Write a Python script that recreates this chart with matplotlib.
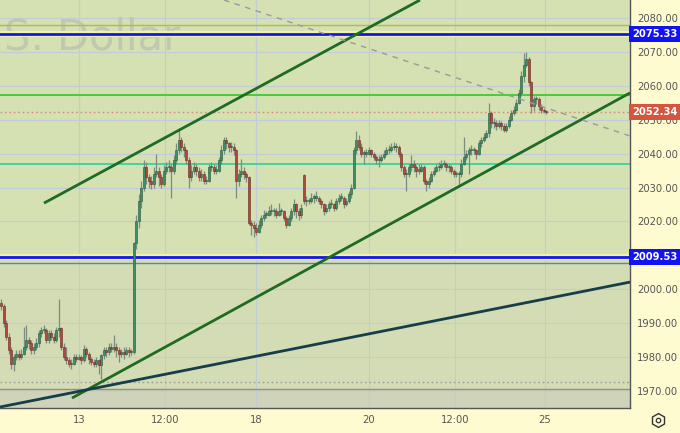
import matplotlib
matplotlib.use("Agg")
import matplotlib.pyplot as plt
import matplotlib.transforms as mtransforms
import numpy as np

# ---------------- data ----------------
first_open = 1996.0
closes = [
    1995, 1990, 1986, 1982, 1978, 1980, 1981, 1980, 1981, 1983,
    1985, 1984, 1982, 1983, 1984, 1987, 1988, 1988, 1985, 1987,
    1986, 1985, 1988, 1988.5, 1983, 1980, 1979, 1978, 1978, 1980,
    1979.5, 1980, 1979, 1982.5, 1981, 1979.5, 1978.5, 1978, 1979, 1977.5,
    1980.5, 1982, 1981.5, 1983, 1982.5, 1983, 1982, 1981, 1981.5, 1981,
    1982, 1981.5, 1981.5, 2013.5, 2020, 2026, 2030, 2036, 2033, 2032,
    2031, 2034, 2035, 2033, 2031, 2035, 2036, 2036, 2035, 2038,
    2041, 2044, 2042, 2041, 2038, 2033, 2035, 2036, 2035, 2033,
    2034, 2032, 2032, 2036, 2036, 2035, 2035, 2038, 2041, 2044,
    2043, 2042, 2042, 2041, 2032, 2034, 2035, 2034, 2033, 2019.5,
    2019, 2018, 2017, 2019, 2021, 2022, 2022, 2023, 2023, 2023,
    2022, 2023, 2023, 2021, 2019, 2021, 2023, 2025, 2023, 2022,
    2024, 2026, 2026, 2026, 2027, 2027, 2027, 2026, 2025, 2023,
    2024, 2025, 2025, 2024, 2026, 2027, 2027, 2025, 2026, 2028,
    2030, 2041, 2044, 2042, 2040, 2040, 2040, 2041, 2040, 2039,
    2038, 2038, 2039, 2040, 2041, 2041, 2042, 2042, 2042, 2040,
    2036, 2034, 2034, 2036, 2037, 2036, 2035, 2035, 2036, 2032,
    2031, 2032, 2034, 2035, 2036, 2036, 2037, 2037, 2036, 2036,
    2035, 2034, 2034, 2034, 2037, 2039, 2040, 2041, 2041, 2041,
    2040, 2043, 2044, 2045, 2046, 2052, 2049, 2049, 2048, 2049,
    2048, 2047, 2048, 2050, 2052, 2053, 2055, 2058, 2063, 2066,
    2068, 2061, 2054, 2056, 2056, 2054, 2053, 2052.6, 2052.34,
]
highs = [
    1997, 1995.5, 1991, 1987, 1983, 1981, 1982, 1982, 1982.5, 1989,
    1989.5, 1986, 1985, 1984, 1985.5, 1988, 1989, 1989.5, 1988.5, 1988,
    1988, 1987, 1989, 1997, 1989, 1984, 1983, 1980, 1979.5, 1981,
    1981, 1981, 1980.5, 1983.5, 1983, 1981.5, 1980, 1979.5, 1980, 1979.5,
    1981, 1983, 1983, 1984, 1984, 1986.5, 1984, 1983, 1982.5, 1983,
    1983, 1983, 1982.5, 2014, 2022, 2028, 2032, 2038, 2037.5, 2034,
    2033.5, 2036, 2040, 2036, 2034, 2036.5, 2037.5, 2038, 2037, 2039.5,
    2043, 2047.5, 2045, 2043, 2041.5, 2039, 2036.5, 2037.5, 2037, 2036,
    2035.5, 2035, 2033.5, 2037, 2037.5, 2037, 2036.5, 2039, 2042.5, 2045,
    2045, 2043.5, 2043.5, 2043, 2041.5, 2035.5, 2038.5, 2036, 2034.5, 2033.5,
    2020.5, 2020, 2019.5, 2020.5, 2022, 2023.5, 2023, 2024.5, 2025, 2024,
    2024, 2025.5, 2024, 2023.5, 2021.5, 2022, 2024, 2026.5, 2025.5, 2024,
    2025, 2034, 2027.5, 2027, 2028.5, 2028, 2029, 2027.5, 2026.5, 2025.5,
    2025, 2026, 2026.5, 2025.5, 2027, 2028, 2028.5, 2027.5, 2027, 2029,
    2031, 2042, 2046.7, 2045.5, 2043, 2041, 2041.5, 2042, 2041.5, 2040.5,
    2039.5, 2039.5, 2040, 2041, 2042, 2042.5, 2043, 2043.5, 2043, 2042.5,
    2040.5, 2036.5, 2035.5, 2037, 2039.5, 2038, 2036.5, 2037, 2037, 2036.5,
    2032.5, 2033, 2035, 2036, 2037, 2037.5, 2038, 2038, 2037.5, 2037,
    2036.5, 2035.5, 2035, 2035, 2038.5, 2045, 2041, 2042, 2042.5, 2042,
    2041.5, 2044, 2045, 2046, 2047, 2055, 2052.5, 2050.5, 2050, 2050,
    2049.5, 2049, 2049, 2051, 2053, 2054, 2056, 2059, 2064.5, 2069.7,
    2070, 2068.5, 2061.5, 2057, 2057, 2056.7, 2054.5, 2053.5, 2053,
]
lows = [
    1994, 1989, 1985, 1981, 1976.5, 1976, 1979, 1979, 1979.5, 1980.5,
    1982, 1982.5, 1981, 1981, 1982, 1983, 1986, 1987, 1984, 1984,
    1985, 1984, 1984.5, 1986, 1982, 1979, 1978, 1977, 1976.5, 1977.5,
    1978.5, 1979, 1978, 1978.5, 1980, 1978, 1977.5, 1977, 1977, 1975,
    1973.5, 1979.5, 1980, 1980.5, 1981.5, 1981.5, 1980, 1978.5, 1980, 1979.5,
    1980.5, 1980, 1980.5, 1981, 2012, 2018, 2024, 2029, 2031, 2030,
    2029.5, 2030, 2033, 2030.5, 2030, 2030.5, 2034, 2034.5, 2027, 2034,
    2037, 2040, 2040.5, 2039, 2037, 2030, 2032, 2034, 2033.5, 2032,
    2032, 2031, 2031, 2031.5, 2035, 2034, 2034, 2034.5, 2037, 2040,
    2041.5, 2040.5, 2040.5, 2039.5, 2027, 2030.5, 2033, 2032.5, 2031.5, 2019,
    2016, 2015.5, 2016, 2016.5, 2018, 2020, 2021, 2021.5, 2022, 2021.5,
    2021, 2021.5, 2022, 2020, 2018, 2018.5, 2020, 2022, 2021, 2020.5,
    2021, 2025, 2024.5, 2025, 2025.5, 2025.5, 2026, 2025, 2024, 2022,
    2022.5, 2023, 2024, 2023, 2023.5, 2025, 2026, 2024, 2024.5, 2025.5,
    2027, 2029.5, 2040, 2041, 2039, 2037, 2039, 2039.5, 2039, 2038,
    2037, 2036, 2037.5, 2038.5, 2039.5, 2040, 2040.5, 2041, 2040.5, 2039,
    2035, 2033, 2029, 2033, 2035, 2034.5, 2033, 2034, 2034.5, 2031,
    2029, 2030, 2031.5, 2033.5, 2034.5, 2035, 2035.5, 2036, 2035, 2034.5,
    2034, 2033, 2033, 2030.5, 2033, 2036.5, 2038, 2034, 2039.5, 2040,
    2038.5, 2039.5, 2042, 2043.5, 2044.5, 2045, 2047.5, 2047.5, 2047, 2047.5,
    2047, 2046.5, 2046.5, 2047.5, 2049.5, 2051.5, 2052.5, 2054.5, 2057, 2061,
    2065.5, 2060, 2052, 2052.5, 2054.5, 2053, 2052, 2052, 2051.8,
]
gap_open_bar = 121
gap_open_value = 2033.7

price_ticks = [1970, 1980, 1990, 2000, 2010, 2020, 2030, 2040, 2050, 2060, 2070, 2080]
hidden_price_labels = [2010]          # covered by the 2009.53 tag in the reference
time_tick_bars = [31.1, 65.5, 101.9, 147.1, 181.5, 217.5]
time_tick_labels = ["13", "12:00", "18", "20", "12:00", "25"]

# horizontal levels: price, color, width, style
levels = [
    (2078.0, "#a5c43e", 1.0, "-"),
    (2075.33, "#1414f0", 2.0, "-"),
    (2057.4, "#46cc3c", 1.4, "-"),
    (2052.34, "#d88c76", 1.0, (0, (1.2, 2))),
    (2036.9, "#2ed098", 1.2, "-"),
    (2009.53, "#1414f0", 2.0, "-"),
    (2007.7, "#5a88a8", 1.0, "-"),
    (1972.7, "#9c9c96", 1.0, (0, (1.2, 2))),
    (1970.5, "#8e9088", 1.0, "-"),
]
# trend lines: (bar0, price0), (bar1, price1), color, width, style
trend_lines = [
    ((17.1, 2025.4), (167.5, 2085.3), "#1f6b22", 2.0, "-"),
    ((28.3, 1967.9), (251.5, 2057.9), "#1f6b22", 2.0, "-"),
    ((-0.5, 1965.25), (251.5, 2002.1), "#163e48", 2.0, "-"),
    ((89.1, 2085.3), (251.5, 2045.2), "#9a9a9a", 1.0, (0, (4, 4))),
]
# price tags on the axis
tags = [(2075.33, "#1212f5"), (2052.34, "#d6553f"), (2009.53, "#1212f5")]

# ---------------- figure ----------------
W, H = 680, 433
fig = plt.figure(figsize=(W / 100, H / 100), dpi=100)
fig.patch.set_facecolor("#fffbd0")
ax = fig.add_axes([0, 25 / H, 630 / W, 408 / H])
ax.set_facecolor("#d5e0b3")

n = len(closes)
xs = np.arange(n)
c = np.array(closes, dtype=float)
o = np.concatenate([[first_open], c[:-1]])
o[gap_open_bar] = gap_open_value
hi = np.array(highs, dtype=float)
lo = np.array(lows, dtype=float)

ax.set_xlim(-0.5, 251.5)
ax.set_ylim(1964.96, 2085.31)

# background bands
ax.axhspan(1964.96, 2008.6, color="#d3dcb4", zorder=0, lw=0)
ax.axhspan(1964.96, 1970.5, color="#cfd3b9", zorder=0, lw=0)

# grid
for p in price_ticks:
    ax.axhline(p, color="#c2ccd4", lw=0.8, zorder=1)
for b in time_tick_bars:
    ax.axvline(b, color="#c2ccd4", lw=0.8, zorder=1)

# watermark
ax.text(4 / 630, 1 - 38 / 408, "S. Dollar", transform=ax.transAxes,
        fontsize=30, color="#c0c8ad", ha="left", va="center", zorder=1.5)

# levels
for p, col, lw, ls in levels:
    if col == "#1414f0":
        ax.axhline(p, color="#eef3a8", lw=lw + 2.5, zorder=2)
    ax.axhline(p, color=col, lw=lw, ls=ls, zorder=2.1)

# candles
up = c >= o
wick_col = "#7d8c82"
ax.vlines(xs, lo, hi, color=wick_col, lw=0.9, zorder=3)
body_bottom = np.minimum(o, c)
body_h = np.maximum(np.abs(c - o), 0.35)
ax.bar(xs[up], body_h[up], bottom=body_bottom[up], width=0.75,
       color="#3f8f66", edgecolor="#25583d", linewidth=0.4, zorder=4)
ax.bar(xs[~up], body_h[~up], bottom=body_bottom[~up], width=0.75,
       color="#b5483b", edgecolor="#6a2a22", linewidth=0.4, zorder=4)

# trend lines
for (b0, p0), (b1, p1), col, lw, ls in trend_lines:
    ax.plot([b0, b1], [p0, p1], color=col, lw=lw, ls=ls, zorder=5,
            solid_capstyle="butt")

# axes styling
for s in ["top", "left"]:
    ax.spines[s].set_visible(False)
ax.spines["right"].set_color("#555555")
ax.spines["bottom"].set_color("#555555")
ax.spines["right"].set_linewidth(1.0)
ax.spines["bottom"].set_linewidth(1.0)

ax.yaxis.tick_right()
ax.set_yticks(price_ticks)
ax.set_yticklabels(["" if p in hidden_price_labels else f"{p:.2f}" for p in price_ticks])
ax.tick_params(axis="y", length=0, pad=5, labelsize=7.2, labelcolor="#555555")
ax.set_xticks(time_tick_bars)
ax.set_xticklabels(time_tick_labels)
ax.tick_params(axis="x", length=0, pad=5, labelsize=7.2, labelcolor="#555555")

trans = mtransforms.blended_transform_factory(ax.transAxes, ax.transData)
for p, col in tags:
    ax.text(1.003, p, f"{p:.2f}", transform=trans, ha="left", va="center",
            fontsize=7.2, fontweight="bold", color="white", zorder=10,
            clip_on=False,
            bbox=dict(boxstyle="square,pad=0.32", fc=col, ec="none"))

# settings icon
ax.plot([658 / W], [1 - 420 / H], marker="h", ms=10, mfc="none", mec="#333333",
        mew=1.0, transform=fig.transFigure, clip_on=False)
ax.plot([658 / W], [1 - 420 / H], marker="o", ms=3.2, mfc="none", mec="#333333",
        mew=0.9, transform=fig.transFigure, clip_on=False)

fig.savefig("out.png", dpi=100, facecolor=fig.get_facecolor())
